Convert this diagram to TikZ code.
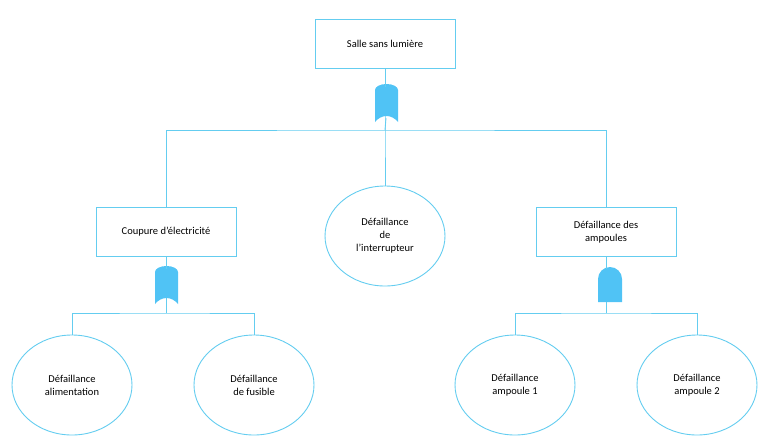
\documentclass[tikz,border=0pt]{standalone}
\usepackage{fontspec}
\setmainfont{Carlito}
\usetikzlibrary{shapes.geometric}
\begin{document}
\begin{tikzpicture}[x=1pt,y=-1pt,
  every node/.style={font=\fontsize{10.5}{13}\selectfont},
  ln/.style={draw=lb,line width=0.9pt},
  bx/.style={draw=lb,line width=0.9pt,fill=white,minimum width=140pt,minimum height=49pt,align=center},
  el/.style={ellipse,draw=lb,line width=0.9pt,fill=white,minimum width=120pt,minimum height=100pt,align=center,inner sep=0pt}]
\definecolor{lb}{RGB}{100,205,240}
\definecolor{gf}{RGB}{80,195,245}
\useasboundingbox (0,0) rectangle (768,445);
\def\orgate#1#2{\fill[gf] (#1-11.5,#2+39) -- (#1-11.5,#2+7) arc[start angle=180,end angle=360,x radius=11.5,y radius=6] -- (#1+11.5,#2+39) .. controls (#1+5,#2+31) and (#1-5,#2+31) .. (#1-11.5,#2+39) -- cycle;}
\node[bx] (top) at (385,44) {Salle sans lumière};
\node[bx] (l) at (166,232) {Coupure d’électricité};
\node[bx] (r) at (606,232) {Défaillance des\\ampoules};
\node[el] (m) at (385,236) {Défaillance\\de\\l’interrupteur};
\node[el] (a) at (72,385) {Défaillance\\alimentation};
\node[el] (b) at (254,385) {Défaillance\\de fusible};
\node[el] (c) at (515,385) {Défaillance\\ampoule 1};
\node[el] (d) at (697,385) {Défaillance\\ampoule 2};
\coordinate (j1) at (385,130);
\coordinate (j2) at (166,313);
\coordinate (j3) at (606,313);
\draw[ln] (top.south) -- (j1) -- (m.north);
\draw[ln] (l.north) |- (j1) -| (r.north);
\draw[ln] (l.south) -- (j2);
\draw[ln] (a.north) |- (j2) -| (b.north);
\draw[ln] (r.south) -- (j3);
\draw[ln] (c.north) |- (j3) -| (d.north);
\orgate{386.5}{83}
\orgate{166.5}{265}
\fill[gf] (598,302) -- (598,279) arc[start angle=180,end angle=360,x radius=12,y radius=12] -- (622,302) -- cycle;
\draw[ln] (top.south) -- ++(0,18);
\draw[ln] (l.south) -- ++(0,12);
\draw[ln] (r.south) -- ++(0,12);
\draw[ln] (386,118) -- (j1);
\draw[ln] (166,300) -- (j2);
\draw[ln] (606,302) -- (j3);
\end{tikzpicture}
\end{document}
